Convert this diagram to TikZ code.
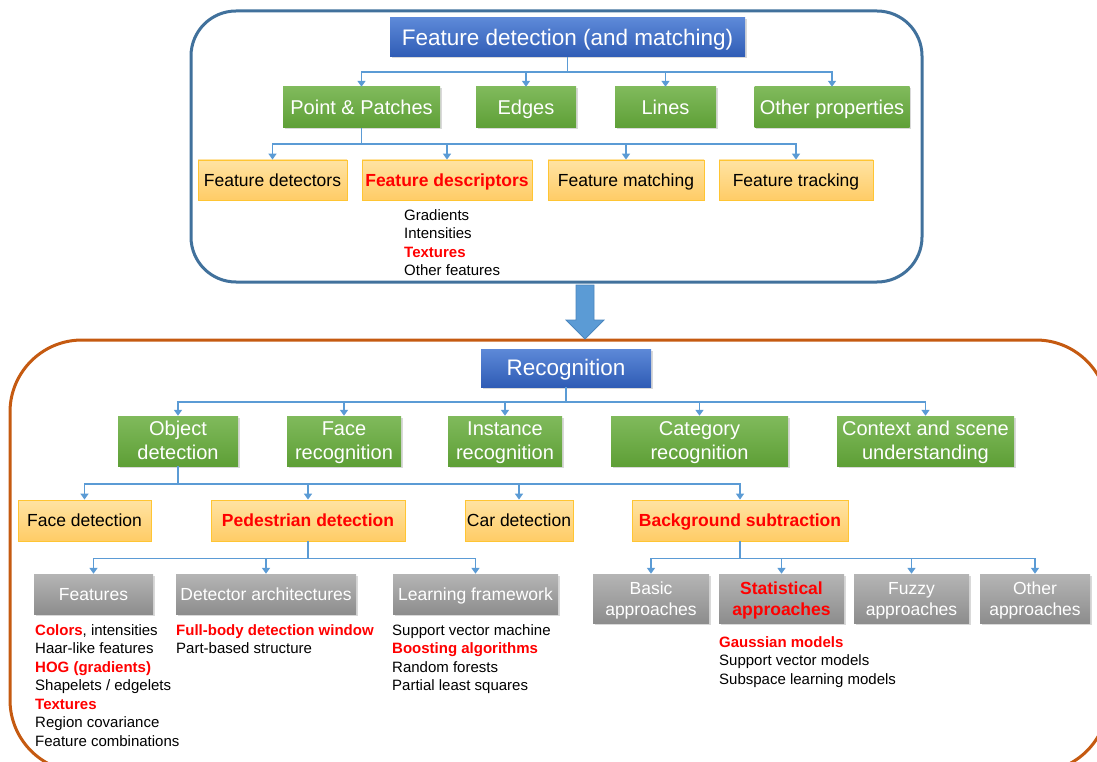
\documentclass[tikz,border=0pt]{standalone}
\usepackage{fontspec}
\setmainfont{Liberation Sans}
\usetikzlibrary{arrows.meta,shadows}
\definecolor{conncol}{HTML}{5B9BD5}
\definecolor{frameblue}{HTML}{41719C}
\definecolor{framebrown}{HTML}{C55A11}
\definecolor{bluetop}{HTML}{5D89D8}
\definecolor{bluebot}{HTML}{2F5CB5}
\definecolor{greentop}{HTML}{80BA5C}
\definecolor{greenbot}{HTML}{5E9F36}
\definecolor{orangetop}{HTML}{FFE3A3}
\definecolor{orangebot}{HTML}{FFCC66}
\definecolor{orangeline}{HTML}{FFC533}
\definecolor{graytop}{HTML}{B5B5B5}
\definecolor{graybot}{HTML}{8D8D8D}
\definecolor{hot}{HTML}{FF0000}
\definecolor{arrowfill}{HTML}{5B9BD5}
\definecolor{arrowline}{HTML}{4A86BE}
\tikzset{
  boxbase/.style={inner sep=0pt, align=center},
  shade/.style={drop shadow={opacity=0.3, shadow xshift=1.5pt, shadow yshift=-1.5pt}},
  titlebox/.style={boxbase, shade, top color=bluetop, bottom color=bluebot, text=white, font=\fontsize{22.5}{26}\selectfont},
  greenbox/.style={boxbase, shade, top color=greentop, bottom color=greenbot, text=white, font=\fontsize{20}{24}\selectfont},
  orangebox/.style={boxbase, top color=orangetop, bottom color=orangebot, draw=orangeline, line width=0.8pt, font=\fontsize{17.5}{21}\selectfont},
  graybox/.style={boxbase, shade, top color=graytop, bottom color=graybot, text=white, font=\fontsize{17.5}{21}\selectfont},
  listtext/.style={inner sep=0pt, align=left, anchor=north west, font=\fontsize{15}{18.5}\selectfont},
  conn/.style={draw=conncol, line width=1.8pt, -{Triangle[width=8pt,length=6pt]}},
}
\newcommand{\red}[1]{\textcolor{hot}{\textbf{#1}}}
\newcommand{\bs}{\rule[-0.21em]{0pt}{1.11em}}
\begin{document}
\begin{tikzpicture}[x=1pt,y=-1pt]
\useasboundingbox (0,0) rectangle (1097,762);
\begin{scope}
\clip (0,0) rectangle (1097,762);
% frames
\draw[frameblue, line width=3pt, rounded corners=45pt] (191,11) rectangle (922,282);
\draw[framebrown, line width=3pt, rounded corners=72pt] (10,340) rectangle (1108,772);
\end{scope}
% big arrow
\draw[arrowline, fill=arrowfill, line width=0.8pt] (576,285) -- (594,285) -- (594,320) -- (604,320) -- (585,339) -- (566,320) -- (576,320) -- cycle;

% ---------- top part ----------
\node[titlebox, minimum width=355pt, minimum height=39pt] (fdm) at (567.5,37.5) {Feature detection (and matching)\bs};
\node[greenbox, minimum width=157pt, minimum height=41pt] (pp) at (361.5,107.5) {Point \& Patches\bs};
\node[greenbox, minimum width=100pt, minimum height=41pt] (edges) at (526,107.5) {Edges\bs};
\node[greenbox, minimum width=101pt, minimum height=41pt] (lines) at (665.5,107.5) {Lines\bs};
\node[greenbox, minimum width=155pt, minimum height=41pt] (other) at (832,107.5) {Other properties\bs};
\foreach \n in {pp,edges,lines,other}{\draw[conn] (fdm.south) -- ++(0,15) -| (\n.north);}

\node[orangebox, minimum width=149pt, minimum height=40pt] (fdet) at (272.5,180) {Feature detectors\bs};
\node[orangebox, minimum width=170pt, minimum height=40pt] (fdesc) at (447,180) {\red{Feature descriptors}\bs};
\node[orangebox, minimum width=156pt, minimum height=40pt] (fmatch) at (626,180) {Feature matching\bs};
\node[orangebox, minimum width=154pt, minimum height=40pt] (ftrack) at (796,180) {Feature tracking\bs};
\foreach \n in {fdet,fdesc,fmatch,ftrack}{\draw[conn] (pp.south) -- ++(0,16) -| (\n.north);}

\node[listtext] (desclist) at (404,209) {Gradients\\Intensities\\\red{Textures}\\Other features};

% ---------- bottom part ----------
\node[titlebox, minimum width=170pt, minimum height=38pt] (rec) at (566,368) {Recognition\bs};
\node[greenbox, minimum width=120pt, minimum height=50pt] (obj) at (178,441) {Object\bs\\detection\bs};
\node[greenbox, minimum width=114pt, minimum height=50pt] (face) at (344,441) {Face\bs\\recognition\bs};
\node[greenbox, minimum width=114pt, minimum height=50pt] (inst) at (505,441) {Instance\bs\\recognition\bs};
\node[greenbox, minimum width=177pt, minimum height=50pt] (cat) at (699.5,441) {Category\bs\\recognition\bs};
\node[greenbox, minimum width=177pt, minimum height=50pt] (ctx) at (925.5,441) {Context and scene\bs\\understanding\bs};
\foreach \n in {obj,face,inst,cat,ctx}{\draw[conn] (rec.south) -- ++(0,15) -| (\n.north);}

\node[orangebox, minimum width=133pt, minimum height=41pt] (facedet) at (84.5,520.5) {Face detection\bs};
\node[orangebox, minimum width=194pt, minimum height=41pt] (ped) at (308,520.5) {\red{Pedestrian detection}\bs};
\node[orangebox, minimum width=108pt, minimum height=41pt] (car) at (519,520.5) {Car detection\bs};
\node[orangebox, minimum width=216pt, minimum height=41pt] (bg) at (740,520.5) {\red{Background subtraction}\bs};
\foreach \n in {facedet,ped,car,bg}{\draw[conn] (obj.south) -- ++(0,18) -| (\n.north);}

\node[graybox, minimum width=119pt, minimum height=40pt] (feat) at (93.5,594) {Features\bs};
\node[graybox, minimum width=180pt, minimum height=40pt] (darch) at (266,594) {Detector architectures\bs};
\node[graybox, minimum width=165pt, minimum height=40pt] (learn) at (475.5,594) {Learning framework\bs};
\foreach \n in {feat,darch,learn}{\draw[conn] (ped.south) -- ++(0,17) -| (\n.north);}

\node[graybox, minimum width=116pt, minimum height=49pt] (basic) at (651,598.5) {Basic\bs\\approaches\bs};
\node[graybox, minimum width=125pt, minimum height=49pt] (stat) at (781.5,598.5) {\red{Statistical}\bs\\\red{approaches}\bs};
\node[graybox, minimum width=115pt, minimum height=49pt] (fuzzy) at (911.5,598.5) {Fuzzy\bs\\approaches\bs};
\node[graybox, minimum width=110pt, minimum height=49pt] (otherap) at (1035,598.5) {Other\bs\\approaches\bs};
\foreach \n in {basic,stat,fuzzy,otherap}{\draw[conn] (bg.south) -- ++(0,17) -| (\n.north);}

\node[listtext] (featlist) at (35,624) {\red{Colors}, intensities\\Haar-like features\\\red{HOG (gradients)}\\Shapelets / edgelets\\\red{Textures}\\Region covariance\\Feature combinations};
\node[listtext] (darchlist) at (176,624) {\red{Full-body detection window}\\Part-based structure};
\node[listtext] (learnlist) at (392,624) {Support vector machine\\\red{Boosting algorithms}\\Random forests\\Partial least squares};
\node[listtext] (statlist) at (719,636) {\red{Gaussian models}\\Support vector models\\Subspace learning models};
\end{tikzpicture}
\end{document}
